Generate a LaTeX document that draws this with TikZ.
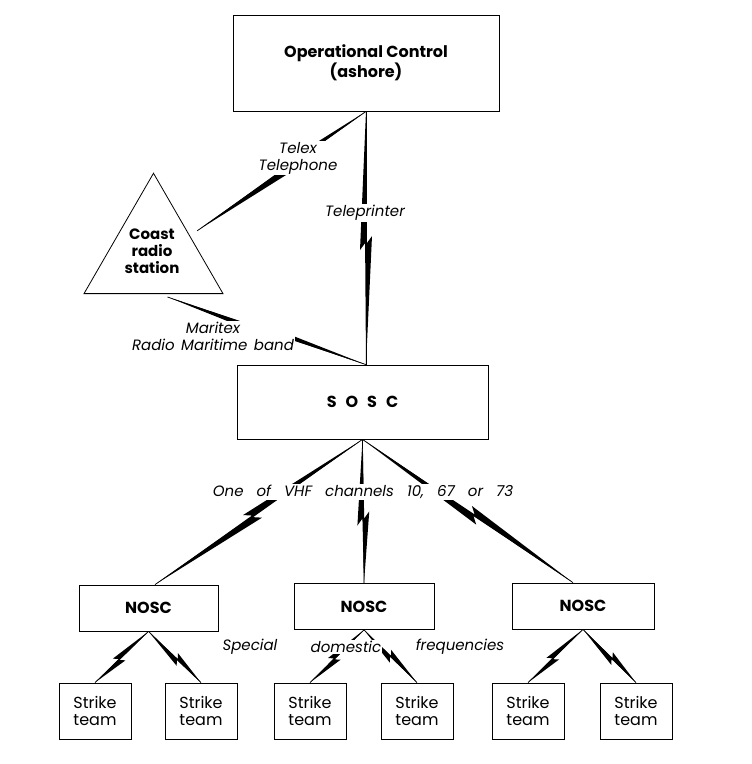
\documentclass[tikz,border=0pt]{standalone}
\usepackage{fontspec}
\setmainfont{Poppins}
\usetikzlibrary{calc,shapes.geometric}
\tikzset{
  box/.style={draw, line width=0.8pt, inner sep=0pt, align=center},
  bigbox/.style={box, font=\bfseries\fontsize{16}{17}\selectfont},
  nosc/.style={box, minimum height=46pt, font=\bfseries\fontsize{16}{18}\selectfont},
  strike/.style={box, minimum width=72pt, minimum height=56pt, font=\fontsize{16}{17}\selectfont},
  boltline/.style={line width=0.7pt},
  boltfill/.style={fill=black},
  lbl/.style={fill=white, inner sep=1pt, align=center, font=\itshape\fontsize{15}{17}\selectfont},
}
\newcommand\zbolt[6]{%
  \draw[boltline] (#1) -- (#2);
  \path let \p1=($(#2)-(#1)$) in \pgfextra{\pgfmathsetmacro\zza{atan2(\y1,\x1)}\xdef\zang{\zza}\pgfmathsetmacro\zzb{veclen(\x1,\y1)}\xdef\zlen{\zzb}};
  \begin{scope}[shift={(#1)}, rotate=\zang]
    \pgfmathsetmacro\zc{#3*\zlen}
    \fill[boltfill] (0pt,0pt) -- ({(\zc+#5)*1pt}, {(0-(#6)*(#4))*1pt}) -- ({\zc*1pt}, {(0-(#6)*0.15*(#4))*1pt}) -- ({\zlen*1pt}, 0pt) -- ({(\zc-#5)*1pt}, {((#6)*(#4))*1pt}) -- ({\zc*1pt}, {((#6)*0.15*(#4))*1pt}) -- cycle;
  \end{scope}}
\begin{document}
\begin{tikzpicture}[x=1pt, y=-1pt]
\useasboundingbox (0,0) rectangle (752,764);
% boxes
\node[bigbox, minimum width=266pt, minimum height=96pt] (op) at (366,63) {Operational Control\\(ashore)};
\node[draw, line width=0.8pt, regular polygon, regular polygon sides=3, minimum size=160.5pt, inner sep=0pt] (tri) at (153.5,253.5) {};
\node[align=center, inner sep=0pt, font=\bfseries\fontsize{15}{17}\selectfont] (crs) at (152,251) {Coast\\radio\\station};
\node[bigbox, minimum width=251pt, minimum height=74pt] (sosc) at (362.5,402) {S\hspace{9pt}O\hspace{9pt}S\hspace{9pt}C};
\node[nosc, minimum width=139pt] (n1) at (148.5,608) {NOSC};
\node[nosc, minimum width=140pt] (n2) at (364,606.5) {NOSC};
\node[nosc, minimum width=142pt] (n3) at (583,606) {NOSC};
\node[strike] (s1) at (95,711) {Strike\\team};
\node[strike] (s2) at (201,711) {Strike\\team};
\node[strike] (s3) at (310,711) {Strike\\team};
\node[strike] (s4) at (417,711) {Strike\\team};
\node[strike] (s5) at (528,711) {Strike\\team};
\node[strike] (s6) at (636,711) {Strike\\team};
% end points
\coordinate (triR) at ($(tri.corner 1)!0.48!(tri.corner 3)+(10,0)$);
\coordinate (triB) at ($(tri.corner 2)!0.6!(tri.corner 3)+(0,3)$);
\coordinate (soscT) at (op.south |- sosc.north);
\coordinate (n1T) at ([xshift=6.5pt]n1.north);
\coordinate (n3T) at ([xshift=-10pt]n3.north);
% bolts
\zbolt{triR}{op.south}{0.5}{6}{6}{1}
\zbolt{op.south}{soscT}{0.52}{6}{7}{1}
\zbolt{triB}{soscT}{0.46}{5.5}{6}{1}
\zbolt{sosc.south}{n1T}{0.53}{6.5}{7}{1}
\zbolt{sosc.south}{n2.north}{0.55}{6}{7}{1}
\zbolt{sosc.south}{n3T}{0.53}{6.5}{7}{1}
\zbolt{n1.south}{s1.north}{0.55}{5}{4}{1}
\zbolt{n1.south}{s2.north}{0.55}{5}{4}{1}
\zbolt{n2.south}{s3.north}{0.55}{5}{4}{1}
\zbolt{n2.south}{s4.north}{0.5}{5}{4}{1}
\zbolt{n3.south}{s5.north}{0.55}{5}{4}{1}
\zbolt{n3.south}{s6.north}{0.55}{5}{4}{1}
% labels
\node[lbl] (ltel) at (298,158) {Telex\\Telephone};
\node[lbl] (ltp) at (365,213) {Teleprinter};
\node[lbl] (lmar) at (213,336) {Maritex\\Radio\hspace{2pt} Maritime\hspace{2pt} band};
\node[lbl] (lvhf) at (363,492) {One\hspace{13pt}of\hspace{13pt}VHF\hspace{13pt}channels\hspace{13pt}10,\hspace{13pt}67\hspace{13pt}or\hspace{13pt}73};
\node[lbl] (lsp) at (250,647) {Special};
\node[lbl] (ldom) at (346,647) {domestic};
\node[lbl] (lfr) at (460,647) {frequencies};
\end{tikzpicture}
\end{document}
